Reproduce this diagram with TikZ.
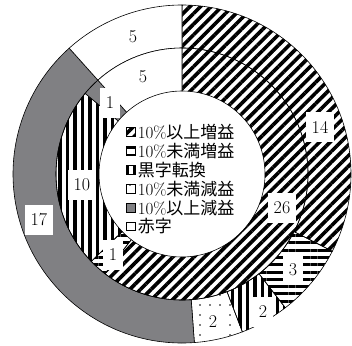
\documentclass[tikz,border=0pt]{standalone}
\usepackage{fontspec}
\newfontfamily\jpfont{Noto Sans CJK JP}
\usetikzlibrary{patterns.meta, positioning}
\definecolor{dgray}{RGB}{128,128,131}
\newcommand{\jp}[1]{{\jpfont #1}}
% one piece of a ring: style, inner r, outer r, from, to
\newcommand{\ringpart}[5]{%
  \path[#1] (#4:#3) arc[start angle=#4, end angle=#5, radius=#3]
    -- (#5:#2) arc[start angle=#5, end angle=#4, radius=#2] -- cycle;}
\tikzset{
  seg/.style={draw=black, line width=0.6pt},
  upten/.style={seg, pattern={Lines[angle=45,distance=7.5pt,line width=3.6pt]}},
  upless/.style={seg, pattern={Lines[angle=0,distance=7.3pt,line width=3pt]}},
  turnup/.style={seg, pattern={Lines[angle=90,distance=7.5pt,line width=3.5pt]}},
  downless/.style={seg, pattern={Dots[distance=10pt,radius=0.8pt]}},
  downten/.style={seg, fill=dgray},
  loss/.style={seg, fill=white},
  num/.style={fill=white, font=\fontsize{18}{20}\selectfont, inner xsep=6pt, inner ysep=9pt},
  key/.style={minimum size=8.5pt, inner sep=0pt},
  keytext/.style={font=\fontsize{17}{18}\selectfont, inner sep=0pt}
}

\begin{document}
\begin{tikzpicture}
  \useasboundingbox (-182pt,-171pt) rectangle (170pt,174pt);
  % outer ring
  \foreach \sty/\a/\b in {upten/90/-27.21, upless/-27.21/-52.33, turnup/-52.33/-69.07,
      downless/-69.07/-85.81, downten/-85.81/-228.14, loss/-228.14/-270}
    {\ringpart{\sty}{126pt}{169pt}{\a}{\b}}
  % inner ring
  \foreach \sty/\a/\b in {upten/90/-127.67, upless/-127.67/-136.05, turnup/-136.05/-219.77,
      downten/-219.77/-228.14, loss/-228.14/-270}
    {\ringpart{\sty}{83pt}{126pt}{\a}{\b}}

  % numbers
  \node[num] (o5)  at (-49pt,137pt) {5};
  \node[num] (i5)  at (-39pt,97pt) {5};
  \node[num] (i1a) at (-72pt,71pt) {1};
  \node[num] (i10) at (-100pt,-11pt) {10};
  \node[num] (o17) at (-143pt,-46pt) {17};
  \node[num] (i1b) at (-69pt,-81pt) {1};
  \node[num] (o14) at (138pt,47pt) {14};
  \node[num] (i26) at (100pt,-34pt) {26};
  \node[num] (o3)  at (111pt,-96pt) {3};
  \node[num] (o2a) at (81pt,-138pt) {2};
  \node[num] (o2b) at (31pt,-148pt) {2};

  % legend
  \node[key, upten] (k1) at (-51pt,42pt) {};
  \node[key, upless] (k2) [below=9.8pt of k1] {};
  \node[key, turnup] (k3) [below=9.8pt of k2] {};
  \node[key, downless] (k4) [below=9.8pt of k3] {};
  \node[key, downten] (k5) [below=9.8pt of k4] {};
  \node[key, loss] (k6) [below=9.8pt of k5] {};
  \node[keytext] (t1) [right=2pt of k1] {10\%\jp{以上増益}};
  \node[keytext] (t2) [right=2pt of k2] {10\%\jp{未満増益}};
  \node[keytext] (t3) [right=2pt of k3] {\jp{黒字転換}};
  \node[keytext] (t4) [right=2pt of k4] {10\%\jp{未満減益}};
  \node[keytext] (t5) [right=2pt of k5] {10\%\jp{以上減益}};
  \node[keytext] (t6) [right=2pt of k6] {\jp{赤字}};
\end{tikzpicture}
\end{document}
